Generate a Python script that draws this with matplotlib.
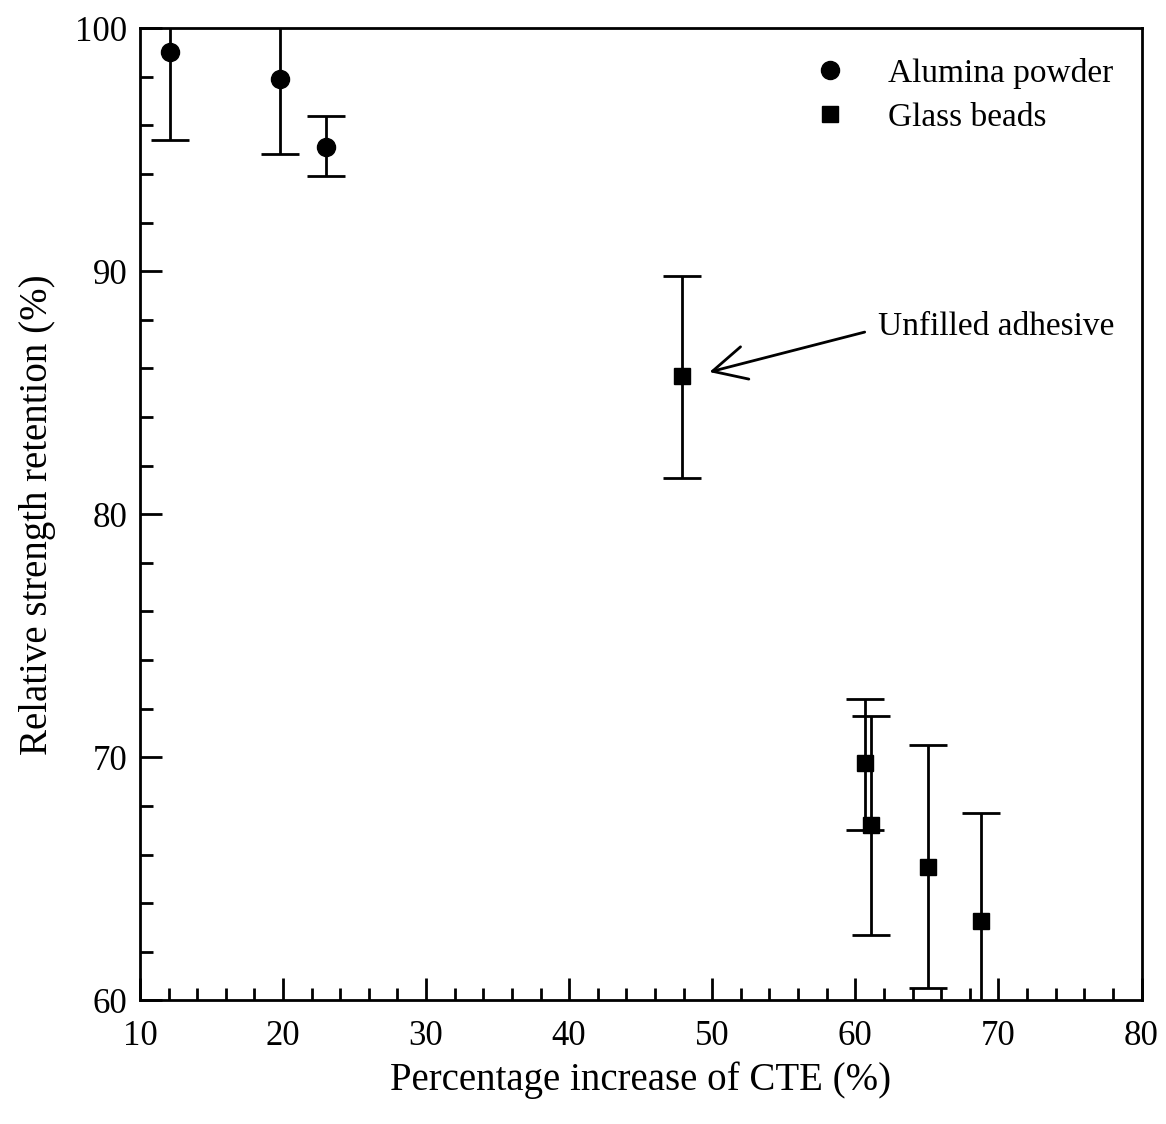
import matplotlib.pyplot as plt
from matplotlib.ticker import MultipleLocator

plt.rcParams['font.family'] = ['Liberation Serif', 'DejaVu Serif']

# alumina powder filled
alumina_x = [12.1, 19.8, 23.0]
alumina_y = [99.0, 97.9, 95.1]
alumina_lo = [95.4, 94.8, 93.9]
alumina_hi = [102.5, 102.0, 96.4]

# glass beads filled (first one = unfilled adhesive)
glass_x = [47.9, 60.7, 61.1, 65.1, 68.8]
glass_y = [85.7, 69.75, 67.2, 65.5, 63.25]
glass_lo = [81.5, 67.0, 62.7, 60.5, 58.5]
glass_hi = [89.8, 72.4, 71.7, 70.5, 67.7]

fig = plt.figure(figsize=(11.66, 11.24), dpi=100)
ax = fig.add_axes([0.120, 0.110, 0.859, 0.865])

def err(y, lo, hi):
    return [[a - b for a, b in zip(y, lo)], [b - a for a, b in zip(y, hi)]]

eb1 = ax.errorbar(alumina_x, alumina_y, yerr=err(alumina_y, alumina_lo, alumina_hi),
                  fmt='o', color='black', ms=13, elinewidth=2, capsize=14, capthick=2)
eb2 = ax.errorbar(glass_x, glass_y, yerr=err(glass_y, glass_lo, glass_hi),
                  fmt='s', color='black', ms=12, elinewidth=2, capsize=14, capthick=2)

ax.annotate('Unfilled adhesive', xy=(49.8, 85.85), xytext=(61.6, 87.7),
            fontsize=24, va='center', ha='left',
            arrowprops=dict(arrowstyle='->', color='black', lw=2, relpos=(0, 0.45),
                            mutation_scale=60, shrinkA=8, shrinkB=0))

ax.set_xlim(10, 80)
ax.set_ylim(60, 100)
ax.xaxis.set_major_locator(MultipleLocator(10))
ax.xaxis.set_minor_locator(MultipleLocator(2))
ax.yaxis.set_major_locator(MultipleLocator(10))
ax.yaxis.set_minor_locator(MultipleLocator(2))
ax.tick_params(which='both', direction='in', top=False, right=False, width=2)
ax.tick_params(which='major', length=16, labelsize=25)
ax.tick_params(axis='x', which='major', pad=14)
ax.tick_params(axis='y', which='major', pad=9)
ax.tick_params(which='minor', length=9)
for s in ax.spines.values():
    s.set_linewidth(2)

ax.set_xlabel('Percentage increase of CTE (%)', fontsize=28, labelpad=6)
ax.set_ylabel('Relative strength retention (%)', fontsize=28, labelpad=14)

ax.legend([eb1[0], eb2[0]], ['Alumina powder', 'Glass beads'],
          loc='upper right', frameon=False, fontsize=24, handletextpad=1.0,
          handlelength=1.5, labelspacing=0.4, bbox_to_anchor=(1.002, 1.0))

fig.savefig('out.png', dpi=100)
